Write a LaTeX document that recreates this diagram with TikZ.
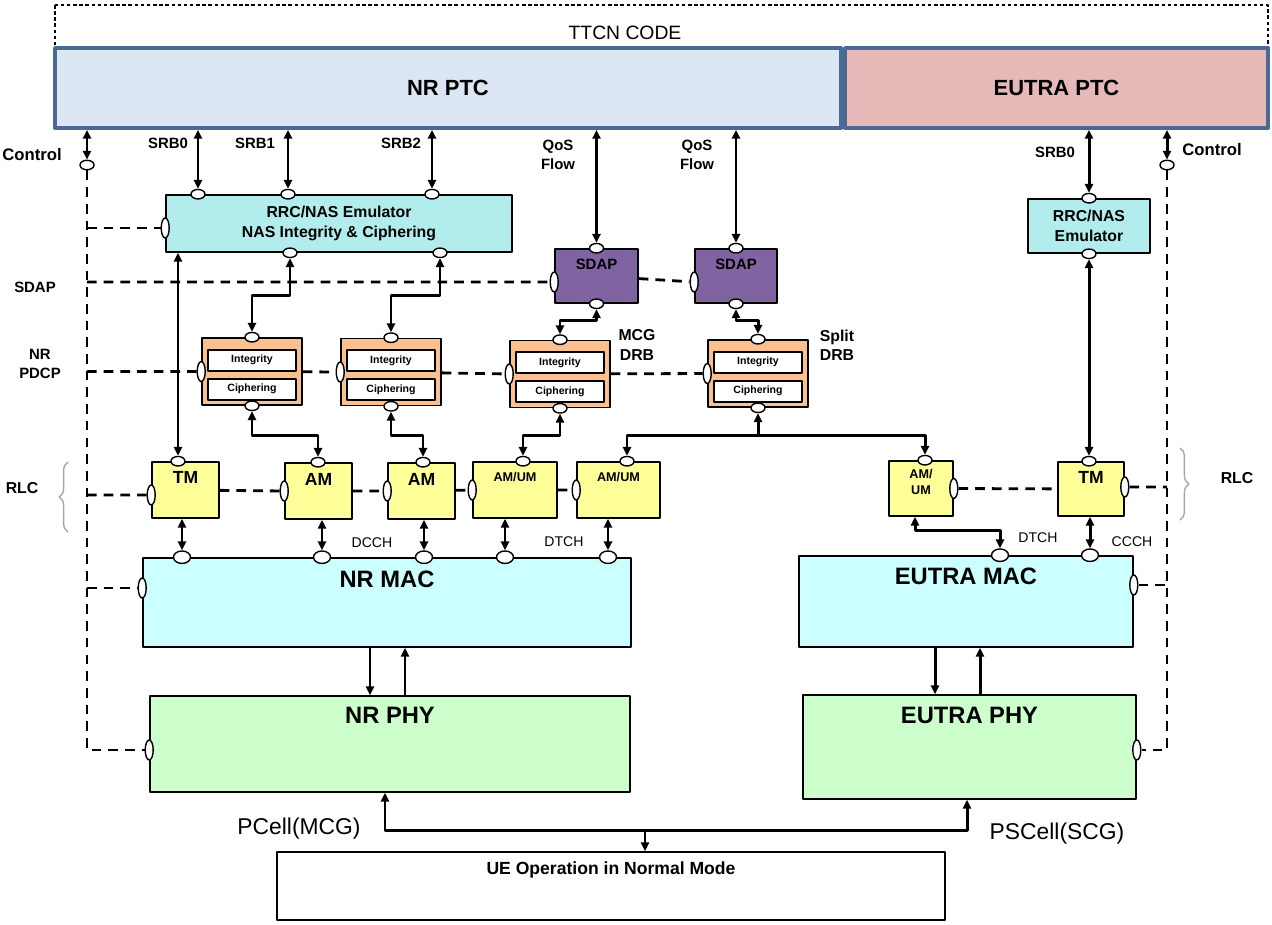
\documentclass[tikz,border=0pt]{standalone}
\usepackage{fontspec}
\setmainfont{Liberation Sans}
\usetikzlibrary{arrows.meta,shapes.geometric,calc,decorations.pathreplacing}
\newcommand\fsz[2]{\fontsize{#1}{#2}\selectfont}
\definecolor{ptcN}{HTML}{DCE6F2}
\definecolor{ptcE}{HTML}{E6B9B8}
\definecolor{ptcB}{HTML}{4A6A96}
\definecolor{rrcC}{HTML}{B3ECEC}
\definecolor{sdapC}{HTML}{8064A2}
\definecolor{pdcpC}{HTML}{FAC090}
\definecolor{rlcC}{HTML}{FFFF99}
\definecolor{macC}{HTML}{CCFFFF}
\definecolor{phyC}{HTML}{CCFFCC}
\begin{document}
\begin{tikzpicture}[x=0.02cm, y=-0.02cm, line join=round, >={Triangle[length=5pt,width=4.6pt]},
	sz/.style 2 args={minimum width=#1*0.02cm, minimum height=#2*0.02cm},
	blk/.style={draw, line width=.9pt, inner sep=0pt},
	ptc/.style={draw=ptcB, line width=2.2pt, font=\bfseries\fsz{12.5}{14}},
	ttl/.style n args={3}{label={[anchor=north,align=center,inner sep=0pt,yshift=-#3,font=\bfseries\fsz{#2}{9}]north:#1}},
	inb/.style={draw, fill=white, line width=.9pt, inner sep=0pt, font=\bfseries\fsz{6}{7}},
	pt/.style={ellipse, draw, fill=white, line width=.8pt, minimum width=.28cm, minimum height=.19cm, inner sep=0pt},
	bpt/.style={pt, minimum width=.34cm, minimum height=.25cm},
	vpt/.style={pt, minimum width=.16cm, minimum height=.4cm},
	dar/.style={<->, line width=1.7pt},
	sar/.style={->, line width=1.7pt},
	dsh/.style={line width=1.6pt, dash pattern=on 5.5pt off 4pt},
	lb/.style={font=\bfseries\fsz{8.5}{11}, align=center, inner sep=0pt},
	ch/.style={font=\fsz{8}{9}, inner sep=0pt},
	brc/.style={decorate, decoration={brace, amplitude=5pt}, draw=gray!70, line width=.8pt}]
	\useasboundingbox (0,0) rectangle (1272,924);
	% test system
	\draw[dash pattern=on 2pt off 1.5pt, line width=.6pt] (55,5) rectangle (1268,128);
	\node[font=\fsz{11}{13}] (ttcn) at (625,33) {TTCN CODE};
	\node[ptc, fill=ptcN, sz={786}{80}] (nrptc) at (448,88) {NR PTC};
	\node[ptc, fill=ptcE, sz={423}{80}] (euptc) at (1056.5,88) {EUTRA PTC};
	% emulators, SDAP, PDCP
	\node[blk, fill=rrcC, sz={346}{57}, font=\bfseries\fsz{9}{11.3}, align=center] (rrcN) at (339,223.5) {RRC/NAS Emulator\\NAS Integrity \& Ciphering};
	\node[blk, fill=rrcC, sz={122}{54}, font=\bfseries\fsz{9}{11}, align=center] (rrcE) at (1089,226) {RRC/NAS\\Emulator};
	\node[blk, fill=sdapC, sz={83}{54}, ttl={SDAP}{8.5}{6pt}] (sd1) at (596.5,276) {};
	\node[blk, fill=sdapC, sz={82}{54}, ttl={SDAP}{8.5}{6pt}] (sd2) at (736,276) {};
	\foreach \n/\cx/\cy in {1/252/371.5, 2/391/372, 3/560/374, 4/758/373.5}{
		\node[blk, fill=pdcpC, sz={100}{67}] (pd\n) at (\cx,\cy) {};
		\node[inb, sz={88}{21}] (int\n) at ($(pd\n.north)+(0,23)$) {Integrity};
		\node[inb, sz={88}{21}] (cip\n) at ($(pd\n.north)+(0,52)$) {Ciphering};
		\node[pt] (pdt\n) at (pd\n.north) {};
		\node[pt] (pdb\n) at (pd\n.south) {};
		\node[vpt] (pdl\n) at (pd\n.west) {};
	}
	% RLC
	\node[blk, fill=rlcC, sz={67}{56}, ttl={TM}{10}{5.5pt}] (tmN) at (185.5,490) {};
	\node[blk, fill=rlcC, sz={67}{56}, ttl={AM}{10}{6pt}] (am1) at (318.5,491) {};
	\node[blk, fill=rlcC, sz={67}{56}, ttl={AM}{10}{6pt}] (am2) at (421.5,491) {};
	\node[blk, fill=rlcC, sz={84}{56}, ttl={AM/UM}{7.2}{6pt}] (amum1) at (515,490) {};
	\node[blk, fill=rlcC, sz={83}{56}, ttl={AM/UM}{7.2}{6pt}] (amum2) at (618.5,490) {};
	\node[blk, fill=rlcC, sz={64}{55}, ttl={AM/\\UM}{7.2}{5pt}] (amumE) at (921,488.5) {};
	\node[blk, fill=rlcC, sz={66}{54}, ttl={TM}{10}{5.5pt}] (tmE) at (1091,489) {};
	% MAC, PHY, UE
	\node[blk, fill=macC, sz={488}{89}, ttl={NR MAC}{13.5}{7.4pt}] (nrmac) at (387,602.5) {};
	\node[blk, fill=macC, sz={334}{91}, ttl={EUTRA MAC}{13.5}{7pt}] (eumac) at (966,601.5) {};
	\node[blk, fill=phyC, sz={480}{96}, ttl={NR PHY}{13.5}{6.8pt}] (nrphy) at (390,744) {};
	\node[blk, fill=phyC, sz={333}{104}, ttl={EUTRA PHY}{13.5}{7pt}] (euphy) at (969.5,747) {};
	\node[blk, sz={668}{68}, ttl={UE Operation in Normal Mode}{10}{6pt}] (ue) at (611,886) {};
	% ports
	\node[pt] (ctlL) at (87,165) {};
	\node[pt] (ctlR) at (1167,165) {};
	\foreach \n/\px in {1/198,2/288,3/432} \node[pt] (rrct\n) at (\px,0 |- rrcN.north) {};
	\node[pt] (rrcb1) at (290,0 |- rrcN.south) {};
	\node[pt] (rrcb2) at (440,0 |- rrcN.south) {};
	\node[vpt] (rrcL) at (rrcN.west |- 0,228) {};
	\node[pt] (rrcEt) at (rrcE.north) {};
	\node[pt] (rrcEb) at (rrcE.south) {};
	\foreach \n in {1,2}{
		\node[pt] (sdt\n) at (sd\n.north) {};
		\node[pt] (sdb\n) at (sd\n.south) {};
		\node[vpt] (sdl\n) at (sd\n.west |- 0,282) {};
	}
	\node[pt] (tmNt) at (178,0 |- tmN.north) {};
	\node[pt] (am1t) at (318,0 |- am1.north) {};
	\node[pt] (am2t) at (423,0 |- am2.north) {};
	\node[pt] (amum1t) at (523,0 |- amum1.north) {};
	\node[pt] (amum2t) at (627,0 |- amum2.north) {};
	\node[pt] (amumEt) at (925,0 |- amumE.north) {};
	\node[pt] (tmEt) at (rrcEb |- tmE.north) {};
	\node[vpt] (tmNl) at (tmN.west |- 0,495) {};
	\node[vpt] (am1l) at (am1.west) {};
	\node[vpt] (am2l) at (am2.west) {};
	\node[vpt] (amum1l) at (amum1.west) {};
	\node[vpt] (amum2l) at (amum2.west) {};
	\node[vpt] (amumEr) at (amumE.east) {};
	\node[vpt] (tmEr) at (tmE.east |- 0,487) {};
	\foreach \n/\px in {1/182,2/322,3/424,4/505,5/608} \node[bpt] (mp\n) at (\px,0 |- nrmac.north) {};
	\node[bpt] (eump1) at (1000,0 |- eumac.north) {};
	\node[bpt] (eump2) at (1090,0 |- eumac.north) {};
	\node[vpt] (nrmacL) at (nrmac.west |- 0,588) {};
	\node[vpt] (eumacR) at (eumac.east |- 0,585) {};
	\node[vpt] (nrphyL) at (nrphy.west |- 0,750) {};
	\node[vpt] (euphyR) at (euphy.east |- 0,750) {};
	% control plane
	\draw[dsh] (ctlL) |- (nrphyL);
	\draw[dsh] (ctlR) |- (euphyR);
	\draw[dsh] (ctlL |- rrcL) -- (rrcL);
	\draw[dsh] (ctlL |- sdl1) -- (sdl1) (sd1) -- (sdl2);
	\draw[dsh] (ctlL |- pdl1) -- (pdl1) (pd1) -- (pdl2) (pd2) -- (pdl3) (pd3) -- (pdl4);
	\draw[dsh] (ctlL |- tmNl) -- (tmNl) (tmN) -- (am1l) (am1) -- (am2l) (am2) -- (amum1l) (amum1) -- (amum2l);
	\draw[dsh] (amumEr) -- (tmE) (tmEr) -- (ctlR |- tmEr);
	\draw[dsh] (ctlL |- nrmacL) -- (nrmacL);
	\draw[dsh] (eumacR) -- (ctlR |- eumacR);
	% user plane
	\draw[dar] (ctlL |- nrptc.south) -- (ctlL);
	\draw[dar] (ctlR |- euptc.south) -- (ctlR);
	\foreach \n in {1,2,3} \draw[dar] (rrct\n |- nrptc.south) -- (rrct\n);
	\foreach \n in {1,2} \draw[dar] (sdt\n |- nrptc.south) -- (sdt\n);
	\draw[dar] (rrcEt |- euptc.south) -- (rrcEt);
	\draw[dar] (rrcb1) |- (pdt1 |- 0,295) -- (pdt1);
	\draw[dar] (rrcb2) |- (pdt2 |- 0,295) -- (pdt2);
	\draw[dar] (sdb1) |- (pdt3 |- 0,320) -- (pdt3);
	\draw[dar] (sdb2) |- (pdt4 |- 0,320) -- (pdt4);
	\draw[dar] (tmNt |- rrcN.south) -- (tmNt);
	\draw[dar] (rrcEb) -- (tmEt);
	\draw[dar] (pdb1) |- (am1t |- 0,435) -- (am1t);
	\draw[dar] (pdb2) |- (am2t |- 0,435) -- (am2t);
	\draw[dar] (pdb3) |- (amum1t |- 0,435) -- (amum1t);
	\draw[dar] (amum2t) |- (amumEt |- 0,435) -- (amumEt);
	\draw[sar] (pdb4 |- 0,435) -- (pdb4);
	\draw[dar] (mp1 |- tmN.south) -- (mp1);
	\draw[dar] (mp2 |- am1.south) -- (mp2);
	\draw[dar] (mp3 |- am2.south) -- (mp3);
	\draw[dar] (mp4 |- amum1.south) -- (mp4);
	\draw[dar] (mp5 |- amum2.south) -- (mp5);
	\draw[dar] (915,0 |- amumE.south) |- (eump1 |- 0,530) -- (eump1);
	\draw[dar] (eump2 |- tmE.south) -- (eump2);
	\draw[sar] (370,0 |- nrmac.south) -- (370,0 |- nrphy.north);
	\draw[sar] (405,0 |- nrphy.north) -- (405,0 |- nrmac.south);
	\draw[sar] (935,0 |- eumac.south) -- (935,0 |- euphy.north);
	\draw[sar] (980,0 |- euphy.north) -- (980,0 |- eumac.south);
	\coordinate (bus) at (645,830);
	\draw[dar] (385,0 |- nrphy.south) |- (bus) -| (967,0 |- euphy.south);
	\draw[sar] (bus) -- (bus |- ue.north);
	% braces and labels
	\draw[brc] (68,532) -- (68,462);
	\draw[brc] (1180,448) -- (1180,520);
	\node[lb, font=\bfseries\fsz{9.5}{11}] (ctlLt) at (32,155) {Control};
	\node[lb, font=\bfseries\fsz{9.5}{11}] (ctlRt) at (1212,150) {Control};
	\node[lb] (srb0t) at (168,143) {SRB0};
	\node[lb] (srb1t) at (255,143) {SRB1};
	\node[lb] (srb2t) at (401,143) {SRB2};
	\node[lb] (qos1t) at (558,155) {QoS\\Flow};
	\node[lb] (qos2t) at (697,155) {QoS\\Flow};
	\node[lb] (srb0Et) at (1055,152) {SRB0};
	\node[lb] (sdapt) at (35,287) {SDAP};
	\node[lb] (pdcpt) at (40,364) {NR\\PDCP};
	\node[lb, font=\bfseries\fsz{9}{11}] (rlcLt) at (22,488) {RLC};
	\node[lb, font=\bfseries\fsz{9}{11}] (rlcRt) at (1237,478) {RLC};
	\node[lb, font=\bfseries\fsz{9}{11}] (mcgt) at (637,345) {MCG\\DRB};
	\node[lb, font=\bfseries\fsz{9}{11}] (splitt) at (837,345) {Split\\DRB};
	\node[ch] (dcch) at (372,543) {DCCH};
	\node[ch] (dtchN) at (564,542) {DTCH};
	\node[ch] (dtchE) at (1038,538) {DTCH};
	\node[ch] (ccch) at (1132,542) {CCCH};
	\node[font=\fsz{13}{15}] (pcell) at (299,829) {PCell(MCG)};
	\node[font=\fsz{13}{15}] (pscell) at (1057,834) {PSCell(SCG)};
\end{tikzpicture}
\end{document}
